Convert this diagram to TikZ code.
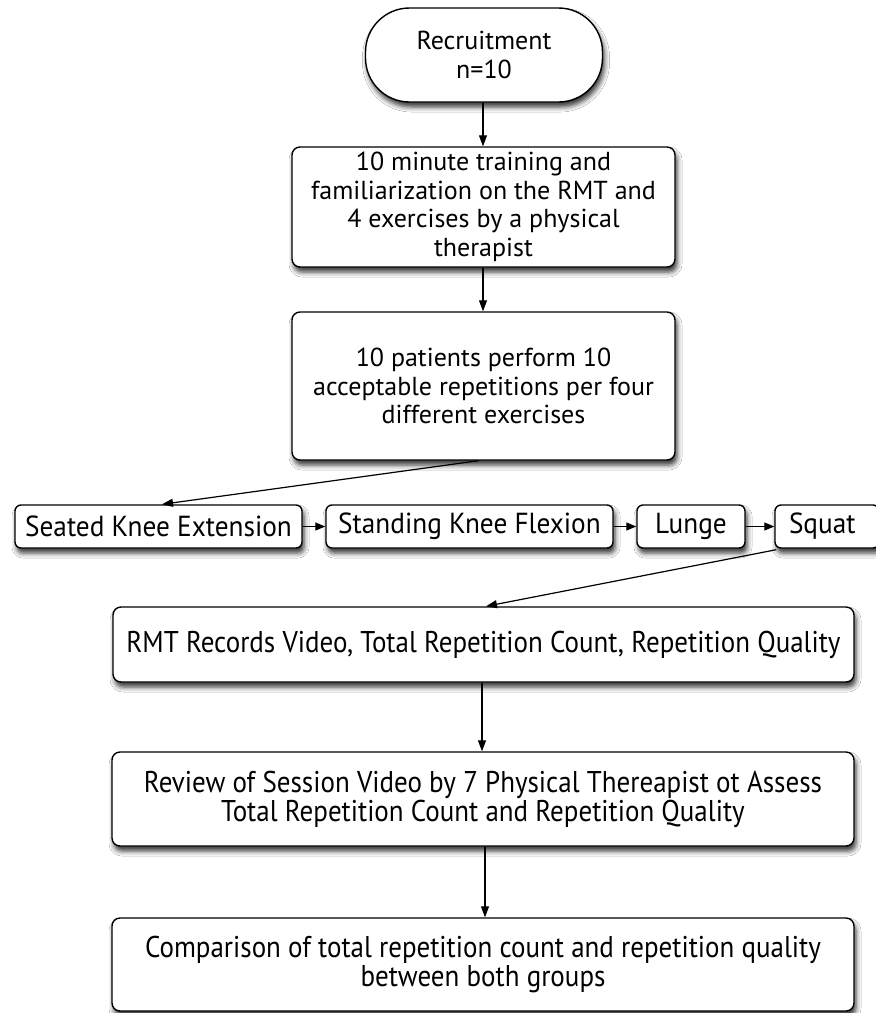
\documentclass[tikz,border=0pt]{standalone}
\usepackage{fontspec}
\setmainfont{PT Sans}
\newfontfamily\condfont[FakeStretch=0.9]{PT Sans}
\newfontfamily\rowfont[FakeStretch=0.94]{PT Sans}
\usetikzlibrary{arrows.meta,shadows.blur}
\begin{document}
\begin{tikzpicture}[x=1pt,y=-1pt,
  box/.style={draw=black, line width=1.4pt, fill=white, rounded corners=8pt, align=center, inner sep=0pt,
    blur shadow={shadow xshift=2pt, shadow yshift=-5pt, shadow blur radius=5pt, shadow opacity=80}},
  topbox/.style={box, font=\fontsize{26}{28.5}\selectfont},
  lowbox/.style={box, font=\condfont\fontsize{30}{29}\selectfont},
  rowbox/.style={box, rounded corners=6pt, minimum height=43pt, font=\rowfont\fontsize{29}{29}\selectfont},
  arr/.style={line width=1.2pt, -{Triangle[length=11pt,width=8pt]}},
  sarr/.style={line width=1.2pt, -{Triangle[length=10pt,width=8pt]}}
]
\useasboundingbox (0,0) rectangle (876,1013);
\clip (0,0) rectangle (876,1013);
\fill[white] (0,0) rectangle (876,1013);

\node[topbox, rounded corners=44pt, minimum width=237pt, minimum height=94pt] (rec) at (484,55) {Recruitment\\n=10};
\node[topbox, minimum width=383pt, minimum height=120pt] (train) at (483.5,207) {10 minute training and\\familiarization on the RMT and\\4 exercises by a physical\\therapist};
\node[topbox, minimum width=383pt, minimum height=148pt] (perf) at (483.5,386) {10 patients perform 10\\acceptable repetitions per four\\different exercises};

\node[rowbox, minimum width=287pt] (seat) at (158.5,526.5) {Seated Knee Extension};
\node[rowbox, minimum width=287pt] (stand) at (469.5,526.5) {Standing Knee Flexion};
\node[rowbox, minimum width=108pt] (lunge) at (691,526.5) {Lunge};
\node[rowbox, minimum width=104pt, text width=100pt, align=left] (squat) at (827,526.5) {\hspace*{12pt}Squat};

\node[lowbox, minimum width=741pt, minimum height=75pt] (rmt) at (483.5,644.5) {RMT Records Video, Total Repetition Count, Repetition Quality};
\node[lowbox, minimum width=742pt, minimum height=94pt] (rev) at (483,799) {Review of Session Video by 7 Physical Thereapist ot Assess\\Total Repetition Count and Repetition Quality};
\node[lowbox, minimum width=742pt, minimum height=93pt] (cmp) at (483,964.5) {Comparison of total repetition count and repetition quality\\between both groups};

\draw[arr] ([xshift=-1pt]rec.south) -- ([xshift=-0.5pt]train.north);
\draw[arr] ([xshift=-0.5pt]train.south) -- ([xshift=-0.5pt]perf.north);
\draw[arr] ([xshift=-5pt]perf.south) -- ([xshift=3.5pt]seat.north);
\draw[sarr] (seat.east) -- (stand.west);
\draw[sarr] (stand.east) -- (lunge.west);
\draw[sarr] (lunge.east) -- (squat.west);
\draw[arr] ([xshift=2pt,yshift=-1pt]squat.south west) -- ([xshift=2.5pt]rmt.north);
\draw[arr] ([xshift=-1.5pt]rmt.south) -- ([xshift=-1pt]rev.north);
\draw[arr] ([xshift=2pt]rev.south) -- ([xshift=2pt]cmp.north);
\end{tikzpicture}
\end{document}
